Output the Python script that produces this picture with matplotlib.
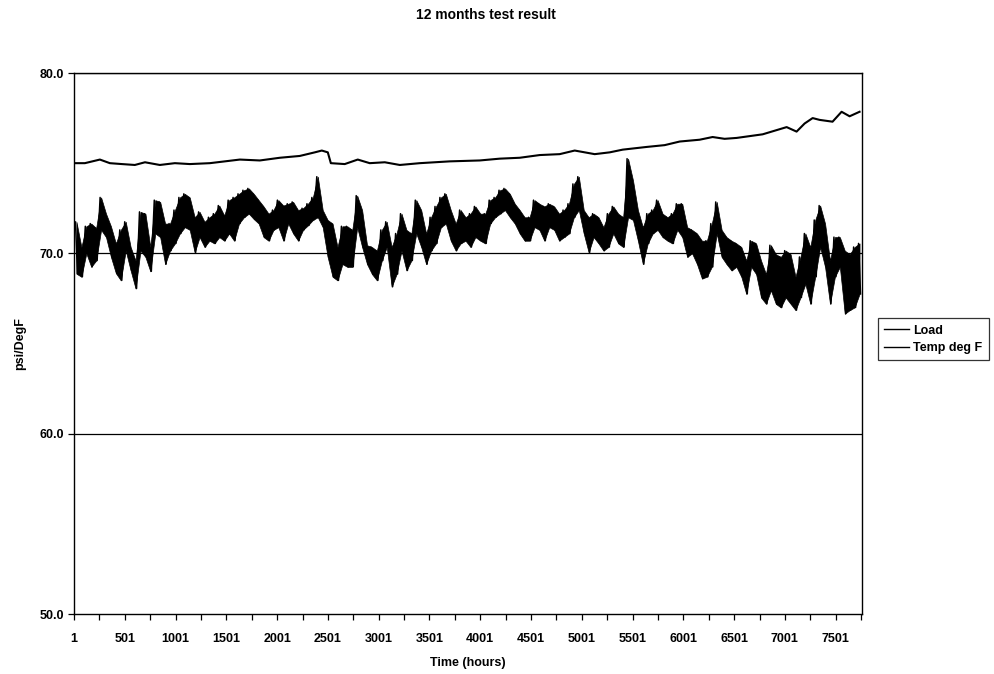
import numpy as np
import matplotlib
matplotlib.use("Agg")
import matplotlib.pyplot as plt

# ---------------- data ----------------
load_hours = [1, 108, 256, 354, 472, 600, 700, 846, 994, 1142, 1339, 1634, 1831,
              2028, 2224, 2372, 2441, 2500, 2530, 2667, 2795, 2913, 3061, 3209,
              3406, 3701, 3996, 4193, 4390, 4587, 4783, 4931, 5030, 5128, 5276,
              5404, 5640, 5817, 5965, 6161, 6289, 6407, 6526, 6654, 6782, 6900,
              7018, 7116, 7195, 7274, 7343, 7470, 7559, 7638, 7736]
load_values = [75.0, 75.0, 75.2, 75.0, 74.95, 74.9, 75.05, 74.9, 75.0, 74.95, 75.0,
               75.2, 75.15, 75.3, 75.4, 75.6, 75.7, 75.6, 75.0, 74.95, 75.2, 75.0,
               75.05, 74.9, 75.0, 75.1, 75.15, 75.25, 75.3, 75.45, 75.5, 75.7, 75.6,
               75.5, 75.6, 75.75, 75.9, 76.0, 76.2, 76.3, 76.45, 76.35, 76.4, 76.5,
               76.6, 76.8, 77.0, 76.75, 77.2, 77.5, 77.4, 77.3, 77.85, 77.6, 77.85]

# Temperature: per ~48-hour bin, the high and low of the dense trace
temp_high = [
    71.74, 70.35, 71.5, 71.65, 71.4, 73.1, 72.2, 71.5, 70.55, 71.3, 71.75, 70.35,
    69.6, 72.3, 72.2, 70.35, 72.95, 72.85, 71.65, 71.65, 72.4, 73.1, 73.3, 73.1,
    72.0, 72.3, 71.75, 72.0, 72.2, 72.65, 72.1, 72.95,
    73.1, 73.3, 73.5, 73.6, 73.3, 72.95, 72.6, 72.2, 72.4, 72.95, 72.65, 72.75,
    72.85, 72.4, 72.5, 72.75, 73.1, 74.25, 72.4, 71.85, 71.65, 70.35, 71.5, 71.5,
    71.3, 73.2, 72.4, 70.45, 70.35, 70.15, 71.3, 71.75,
    70.35, 71.1, 72.2, 71.3, 71.1, 72.95, 72.4, 71.1, 72.0, 72.6, 73.1, 73.3,
    72.4, 71.65, 72.4, 72.0, 72.2, 72.6, 72.2, 72.2, 72.95, 73.1, 73.5, 73.6,
    73.3, 72.75, 72.4, 72.0, 72.0, 72.95, 72.75, 72.6,
    72.75, 72.6, 72.2, 72.4, 72.75, 73.85, 74.25, 72.4, 72.0, 72.2, 72.0, 71.45,
    72.2, 72.6, 72.2, 72.0, 75.25, 74.05, 72.4, 71.45, 72.2, 72.4, 72.95, 72.2,
    72.0, 72.2, 72.75, 72.75, 71.45, 71.3, 71.1, 70.7,
    70.7, 71.65, 72.85, 71.3, 70.9, 70.7, 70.55, 70.35, 69.6, 70.7, 70.55, 69.6,
    68.85, 70.45, 69.95, 69.8, 70.15, 69.95, 68.7, 69.8, 71.1, 70.35, 71.85, 72.65,
    71.65, 69.6, 70.9, 70.9, 70.15, 69.95, 70.35, 70.55]
temp_low = [
    68.87, 68.7, 70.0, 69.25, 69.6, 71.3, 70.9, 69.8, 68.9, 68.5, 70.15, 69.05,
    68.05, 70.15, 69.8, 69.0, 71.1, 70.9, 69.4, 70.15, 70.55, 71.1, 71.45, 71.3,
    70.05, 70.9, 70.35, 70.7, 70.55, 70.9, 70.7, 71.1,
    70.7, 71.65, 72.0, 72.2, 71.9, 71.65, 70.9, 70.7, 71.3, 71.45, 70.7, 71.65,
    71.1, 70.7, 71.3, 71.55, 71.85, 72.0, 71.45, 69.8, 68.7, 68.5, 69.4, 69.25,
    69.25, 71.45, 70.35, 69.4, 68.85, 68.5, 69.6, 70.35,
    68.15, 68.85, 70.15, 69.05, 69.6, 71.1, 70.35, 69.4, 70.15, 70.55, 71.45, 71.65,
    70.7, 70.15, 70.55, 70.7, 70.35, 70.9, 70.7, 70.55, 71.65, 72.0, 72.2, 72.4,
    72.0, 71.65, 71.1, 70.7, 70.7, 71.45, 71.3, 70.7,
    71.45, 71.3, 70.7, 70.9, 71.1, 72.0, 72.4, 71.1, 70.05, 70.9, 70.55, 70.15,
    70.35, 71.1, 70.55, 70.35, 72.0, 71.85, 70.7, 69.4, 70.55, 71.1, 71.3, 70.9,
    70.7, 70.55, 71.3, 70.9, 69.8, 70.0, 69.4, 68.6,
    68.7, 69.25, 71.1, 69.8, 69.4, 69.05, 69.25, 68.7, 67.75, 69.25, 68.85, 67.55,
    67.2, 67.95, 67.2, 67.0, 67.55, 67.2, 66.85, 67.55, 68.3, 67.2, 68.7, 70.35,
    69.25, 67.2, 68.7, 69.25, 66.65, 66.85, 67.0, 67.75]

n_hours = 7760
tick_labels = ["1", "501", "1001", "1501", "2001", "2501", "3001", "3501", "4001",
               "4501", "5001", "5501", "6001", "6501", "7001", "7501"]
y_ticks = [50, 60, 70, 80]

# ---------------- figure ----------------
fig = plt.figure(figsize=(9.95, 6.74), dpi=100)
ax = fig.add_axes([74 / 995, 60 / 674, 788 / 995, 541 / 674])

nb = len(temp_high)
bin_w = (n_hours - 1) / nb
centers = 1 + (np.arange(nb) + 0.5) * bin_w
zx = np.empty(2 * nb)
zy = np.empty(2 * nb)
zx[0::2] = centers - bin_w / 5
zx[1::2] = centers + bin_w / 5
zy[0::2] = temp_high
zy[1::2] = temp_low

for g in [60, 70, 80]:
    ax.axhline(g, color="black", lw=0.9, zorder=1)

ax.plot(load_hours, load_values, color="black", lw=1.5, label="Load", zorder=3)
# dense hourly trace: solid band between the per-bin low and high, with spikes
ax.fill_between(centers, temp_low, temp_high, color="black", lw=0.5,
                edgecolor="black", zorder=2)
ax.plot(zx, zy, color="black", lw=1.1, label="Temp deg F", zorder=3)

ax.set_xlim(1, n_hours)
ax.set_ylim(50, 80)

font = "Liberation Sans"
ax.set_yticks(y_ticks)
ax.set_yticklabels([f"{v:.1f}" for v in y_ticks], fontsize=9,
                   fontweight="bold", family=font)
major = [1 + 500 * i for i in range(len(tick_labels))]
ax.set_xticks(major)
ax.set_xticklabels(tick_labels, fontsize=9, fontweight="bold", family=font)
ax.set_xticks([251 + 500 * i for i in range(len(tick_labels))], minor=True)
ax.tick_params(axis="both", which="both", direction="out", length=4,
               width=0.9, color="black")
ax.tick_params(axis="x", pad=10)
ax.tick_params(axis="y", pad=3)

for s in ax.spines.values():
    s.set_color("black")
    s.set_linewidth(1.0)

ax.set_xlabel("Time (hours)", fontsize=9, fontweight="bold", family=font,
              labelpad=8)
ax.set_ylabel("psi/DegF", fontsize=9, fontweight="bold", family=font,
              labelpad=10)
fig.suptitle("12 months test result", fontsize=10, fontweight="bold",
             family=font, x=486 / 995, y=0.988)

leg = fig.legend(loc="upper left", bbox_to_anchor=(872 / 995, 1 - 312 / 674),
                 frameon=True, fancybox=False, handlelength=2.0,
                 handletextpad=0.3, borderpad=0.5, labelspacing=0.45,
                 prop={"family": font, "weight": "bold", "size": 9})
leg.get_frame().set_edgecolor("black")
leg.get_frame().set_linewidth(0.9)
for l in leg.get_lines():
    l.set_linewidth(1.0)

fig.savefig("out.png", dpi=100)
